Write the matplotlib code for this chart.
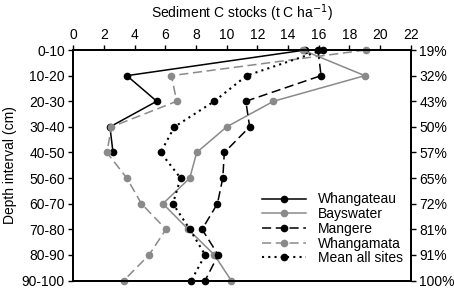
import matplotlib.pyplot as plt

plt.rcParams['font.family'] = ['Liberation Sans', 'DejaVu Sans']

# Data
depths = ['0-10', '10-20', '20-30', '30-40', '40-50', '50-60', '60-70', '70-80', '80-90', '90-100']
cum_pct = ['19%', '32%', '43%', '50%', '57%', '65%', '72%', '81%', '91%', '100%']
whangateau = [15.1, 3.5, 5.45, 2.4, 2.6]
bayswater = [14.95, 19.0, 13.05, 10.0, 8.05, 7.6, 5.85, 7.5, 9.2, 10.3]
mangere = [15.95, 16.15, 11.25, 11.5, 9.85, 9.75, 9.4, 8.4, 9.45, 8.6]
whangamata = [19.05, 6.4, 6.75, 2.5, 2.2, 3.5, 4.45, 6.05, 4.95, 3.3]
mean_all = [16.25, 11.3, 9.2, 6.6, 5.7, 7.0, 6.5, 7.6, 8.6, 7.7]

grey = '#8a8a8a'
fs = 10

fig, ax = plt.subplots(figsize=(4.54, 2.91), dpi=100)
fig.subplots_adjust(left=0.161, right=0.905, top=0.828, bottom=0.036)

y = list(range(len(depths)))
kw = dict(marker='o', markersize=4.5, linewidth=1.1, clip_on=False)
ax.plot(whangateau, y[:len(whangateau)], color='black', label='Whangateau', **kw)
ax.plot(bayswater, y, color=grey, label='Bayswater', **kw)
ax.plot(mangere, y, color='black', dashes=(6, 3), label='Mangere', **kw)
ax.plot(whangamata, y, color=grey, dashes=(6, 3), label='Whangamata', **kw)
ax.plot(mean_all, y, color='black', dashes=(1, 2), linewidth=1.5, marker='o',
        markersize=4.5, clip_on=False, label='Mean all sites')

ax.set_xlim(0, 22)
ax.set_ylim(9, 0)
ax.set_xticks(range(0, 23, 2))
ax.set_yticks(y)
ax.set_yticklabels(depths)
ax.xaxis.tick_top()
ax.xaxis.set_label_position('top')
ax.set_xlabel('Sediment C stocks (t C ha$^{-1}$)', fontsize=fs, labelpad=7)
ax.set_ylabel('Depth interval (cm)', fontsize=fs, labelpad=3)
ax.tick_params(axis='both', labelsize=fs, direction='out', length=3.5, width=1, pad=2.5)

ax2 = ax.twinx()
ax2.set_ylim(9, 0)
ax2.set_yticks(y)
ax2.set_yticklabels(cum_pct)
ax2.tick_params(axis='y', labelsize=fs, direction='out', length=3.5, width=1, pad=2.5)

for a in (ax, ax2):
    for spine in a.spines.values():
        spine.set_linewidth(1.3)

ax.legend(loc='lower right', frameon=False, fontsize=fs, handlelength=3.2,
          labelspacing=0.05, handletextpad=0.8, borderaxespad=0.2,
          bbox_to_anchor=(1.0, 0.03))

plt.savefig('out.png', dpi=100)
